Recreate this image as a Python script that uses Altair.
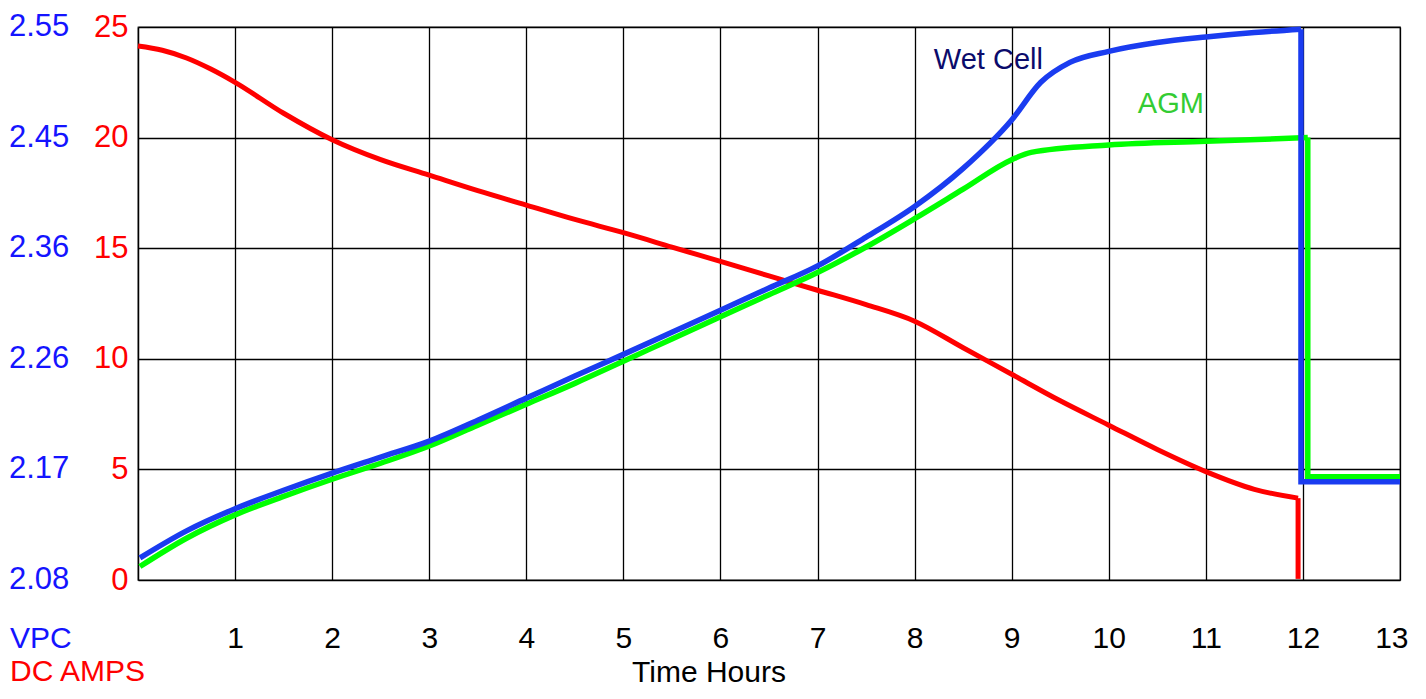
import altair as alt
import pandas as pd
import numpy as np

# ---- Data ----
hour_ticks = list(range(1, 14))
amps_ticks = [0, 5, 10, 15, 20, 25]
vpc_ticks = [2.08, 2.17, 2.26, 2.36, 2.45, 2.55]
vpc_tick_labels = ["2.08", "2.17", "2.26", "2.36", "2.45", "2.55"]

# DC amps (red)
hours_amps = [0, 0.25, 0.5, 0.75, 1, 1.5, 2, 2.5, 3, 3.5, 4, 4.5, 5, 5.5, 6, 6.5, 7,
              7.5, 8, 8.5, 9, 9.5, 10, 10.5, 11, 11.5, 11.95]
amps = [24.14, 23.95, 23.6, 23.1, 22.5, 21.1, 19.9, 19.0, 18.3, 17.6, 16.95, 16.3, 15.7,
        15.05, 14.4, 13.75, 13.1, 12.45, 11.7, 10.5, 9.3, 8.1, 7.0, 5.9, 4.9, 4.1, 3.7]
amps_step_hours = [11.95, 11.95]
amps_step = [3.7, 0.05]

# Wet Cell volts per cell (blue)
hours_wet = [0.02, 0.5, 1, 1.5, 2, 2.5, 3, 3.5, 4, 4.5, 5, 5.5, 6, 6.5, 7, 7.5, 8, 8.5,
             9, 9.3, 9.6, 10, 10.5, 11, 11.5, 11.98]
vpc_wet = [2.098, 2.120, 2.138, 2.153, 2.167, 2.180, 2.193, 2.210, 2.228, 2.246, 2.264,
           2.284, 2.304, 2.324, 2.344, 2.369, 2.394, 2.425, 2.466, 2.500, 2.518, 2.528,
           2.536, 2.541, 2.545, 2.548]
wet_step_hours = [11.98, 11.98, 13.0]
wet_step_vpc = [2.548, 2.160, 2.160]

# AGM volts per cell (green)
hours_agm = [0.02, 0.5, 1, 1.5, 2, 2.5, 3, 3.5, 4, 4.5, 5, 5.5, 6, 6.5, 7, 7.5, 8, 8.5,
             9, 9.2, 10, 11, 12.05]
vpc_agm = [2.091, 2.114, 2.133, 2.148, 2.162, 2.175, 2.189, 2.206, 2.223, 2.240, 2.258,
           2.278, 2.298, 2.318, 2.338, 2.361, 2.384, 2.408, 2.432, 2.438, 2.444, 2.447,
           2.450]
agm_step_hours = [12.05, 12.05, 13.0]
agm_step_vpc = [2.450, 2.164, 2.164]

# annotations
note_text = ["Wet Cell", "AGM"]
note_hour = [8.76, 10.64]
note_amps = [23.5, 21.5]
note_color = ["#0b0b6b", "#33cc33"]


def vpc_to_grid(v):
    return np.interp(v, vpc_ticks, amps_ticks)


x_enc = alt.X("hour:Q",
              scale=alt.Scale(domain=[0, 13], nice=False, zero=False),
              axis=alt.Axis(values=hour_ticks, title=None, grid=True, ticks=False,
                            domain=False, labelFontSize=30, labelPadding=43,
                            labelFlush=True, labelFlushOffset=8, labelBound=False,
                            labelOverlap=False,
                            labelColor="black", gridColor="black", gridWidth=1.3,
                            gridOpacity=1))
y_enc = alt.Y("value:Q",
              scale=alt.Scale(domain=[0, 25], nice=False),
              axis=alt.Axis(values=amps_ticks, title=None, grid=True, ticks=False,
                            domain=True, domainColor="black", domainWidth=1.5,
                            labelColor="#ff0000", labelFontSize=31, labelPadding=10,
                            labelFlush=False, labelOverlap=False,
                            gridColor="black", gridWidth=1.3, gridOpacity=1))


def line_layer(h, v, color, width, interp):
    df = pd.DataFrame({"hour": h, "value": v})
    return alt.Chart(df).mark_line(color=color, strokeWidth=width,
                                   interpolate=interp, strokeCap="butt",
                                   strokeJoin="miter").encode(x=x_enc, y=y_enc)


red_curve = line_layer(hours_amps, amps, "#ff0000", 5, "monotone")
red_step = line_layer(amps_step_hours, amps_step, "#ff0000", 5, "linear")
agm_curve = line_layer(hours_agm, vpc_to_grid(vpc_agm), "#00ff00", 5.5, "monotone")
agm_step = line_layer(agm_step_hours, vpc_to_grid(agm_step_vpc), "#00ff00", 5.5, "linear")
wet_curve = line_layer(hours_wet, vpc_to_grid(vpc_wet), "#1a3cf0", 5.5, "monotone")
wet_step = line_layer(wet_step_hours, vpc_to_grid(wet_step_vpc), "#1a3cf0", 5.5, "linear")

vpc_df = pd.DataFrame({"value": amps_ticks, "label": vpc_tick_labels})
vpc_labels = alt.Chart(vpc_df).mark_text(align="left", baseline="middle", fontSize=31,
                                         color="#1414ff").encode(
    x=alt.value(-129), y=y_enc, text="label:N")

notes_df = pd.DataFrame({"hour": note_hour, "value": note_amps, "label": note_text,
                         "c": note_color})
notes = alt.Chart(notes_df).mark_text(align="center", baseline="middle",
                                      fontSize=29).encode(
    x=x_enc, y=y_enc, text="label:N",
    color=alt.Color("c:N", scale=None, legend=None))

vpc_title = alt.Chart(pd.DataFrame({"t": ["VPC"]})).mark_text(
    align="left", baseline="middle", fontSize=30, color="#1414ff").encode(
    x=alt.value(-128), y=alt.value(612), text="t:N")
amps_title = alt.Chart(pd.DataFrame({"t": ["DC AMPS"]})).mark_text(
    align="left", baseline="middle", fontSize=30, color="#ff0000").encode(
    x=alt.value(-128), y=alt.value(645), text="t:N")
time_title = alt.Chart(pd.DataFrame({"t": ["Time Hours"]})).mark_text(
    align="center", baseline="middle", fontSize=30, color="black").encode(
    x=alt.value(571), y=alt.value(646), text="t:N")

chart = alt.layer(
    red_curve, red_step, agm_curve, agm_step, wet_curve, wet_step,
    vpc_labels, notes, vpc_title, amps_title, time_title
).properties(
    width=1262, height=553,
    autosize=alt.AutoSizeParams(type="none"),
    padding={"left": 130, "top": 19, "right": 10, "bottom": 111},
    background="white",
).configure(
    font="Liberation Sans"
).configure_view(
    stroke="#444444", strokeWidth=1.3
)

chart.save("out.html", embed_options={"renderer": "svg", "actions": False})
